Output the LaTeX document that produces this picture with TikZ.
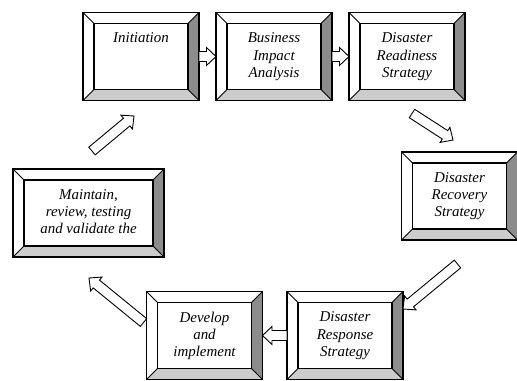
\documentclass[tikz,border=0pt]{standalone}
\usepackage{fontspec}
\setmainfont{Liberation Serif}
\usetikzlibrary{calc}
\definecolor{bevelright}{gray}{0.55}
\definecolor{bevelbottom}{gray}{0.8}
\tikzset{
  bevelbox/.style={rectangle, minimum width=116bp, minimum height=88bp, inner sep=0pt, outer sep=0pt},
  boxtext/.style={anchor=north, align=center, inner sep=0pt, font=\fontsize{15}{17.5}\selectfont\itshape},
  blockarr/.style={draw, fill=white, line width=0.9bp, line join=miter},
}
\newcommand{\blockarrow}[2]{%
  \coordinate (ab) at ($(#2)!9.5bp!(#1)$);
  \draw[blockarr] ($(#1)!5bp!90:(#2)$) -- ($(ab)!5bp!-90:(#1)$) -- ($(ab)!9bp!-90:(#1)$) -- (#2)
    -- ($(ab)!9bp!90:(#1)$) -- ($(ab)!5bp!90:(#1)$) -- ($(#1)!5bp!-90:(#2)$) -- cycle;
}
\begin{document}
\begin{tikzpicture}[x=1bp,y=-1bp]
    \useasboundingbox (0,0) rectangle (517,380);

    \node[bevelbox] (init) at (141,56.5) {};
    \node[bevelbox] (bia)  at (274,56.5) {};
    \node[bevelbox] (rdy)  at (407,56.5) {};
    \node[bevelbox] (rec)  at (459.5,196) {};
    \node[bevelbox, minimum width=151bp] (mnt) at (88.5,213) {};
    \node[bevelbox] (dev)  at (204.5,335.5) {};
    \node[bevelbox] (resp) at (345,335.5) {};

    \foreach \b in {init,bia,rdy,rec,mnt,dev,resp}{
      \fill[bevelright] (\b.north east) -- (\b.south east) -- ($(\b.south east)+(-11,-11)$) -- ($(\b.north east)+(-11,11)$) -- cycle;
      \fill[bevelbottom] (\b.south west) -- (\b.south east) -- ($(\b.south east)+(-11,-11)$) -- ($(\b.south west)+(11,-11)$) -- cycle;
      \draw[line width=0.8bp] (\b.north west) -- ++(11,11) (\b.north east) -- ++(-11,11)
        (\b.south west) -- ++(11,-11) (\b.south east) -- ++(-11,-11);
      \draw[line width=1.6bp] ($(\b.north west)+(11,11)$) rectangle ($(\b.south east)+(-11,-11)$);
      \draw[line width=1.8bp] (\b.north west) rectangle (\b.south east);
    }

    \node[boxtext] (initT) at ($(init.north)+(0,20)$) {Initiation};
    \node[boxtext] (biaT)  at ($(bia.north)+(0,20)$)  {Business\\Impact\\Analysis};
    \node[boxtext] (rdyT)  at ($(rdy.north)+(0,20)$)  {Disaster\\Readiness\\Strategy};
    \node[boxtext] (recT)  at ($(rec.north)+(0,20)$)  {Disaster\\Recovery\\Strategy};
    \node[boxtext] (mntT)  at ($(mnt.north)+(0,20)$)  {Maintain,\\review, testing\\and validate the};
    \node[boxtext] (devT)  at ($(dev.north)+(0,20)$)  {Develop\\and\\implement};
    \node[boxtext] (respT) at ($(resp.north)+(0,20)$) {Disaster\\Response\\Strategy};

    \coordinate (a3s) at ($(rdy.south)+(5,13)$);
    \coordinate (a3e) at ($(rec.north)+(-6.5,-12)$);
    \coordinate (a4s) at ($(rec.south)+(-2,24)$);
    \coordinate (a4e) at ($(resp.north east)+(0,17.5)$);
    \coordinate (a6s) at ($(dev.west)+(-3,-13)$);
    \coordinate (a6e) at ($(mnt.south)+(0.5,21)$);
    \coordinate (a7s) at ($(mnt.north)+(3.5,-18)$);
    \coordinate (a7e) at ($(init.south)+(-7,15.5)$);

    \blockarrow{init.east}{bia.west}
    \blockarrow{bia.east}{rdy.west}
    \blockarrow{a3s}{a3e}
    \blockarrow{a4s}{a4e}
    \blockarrow{resp.west}{dev.east}
    \blockarrow{a6s}{a6e}
    \blockarrow{a7s}{a7e}
\end{tikzpicture}
\end{document}
